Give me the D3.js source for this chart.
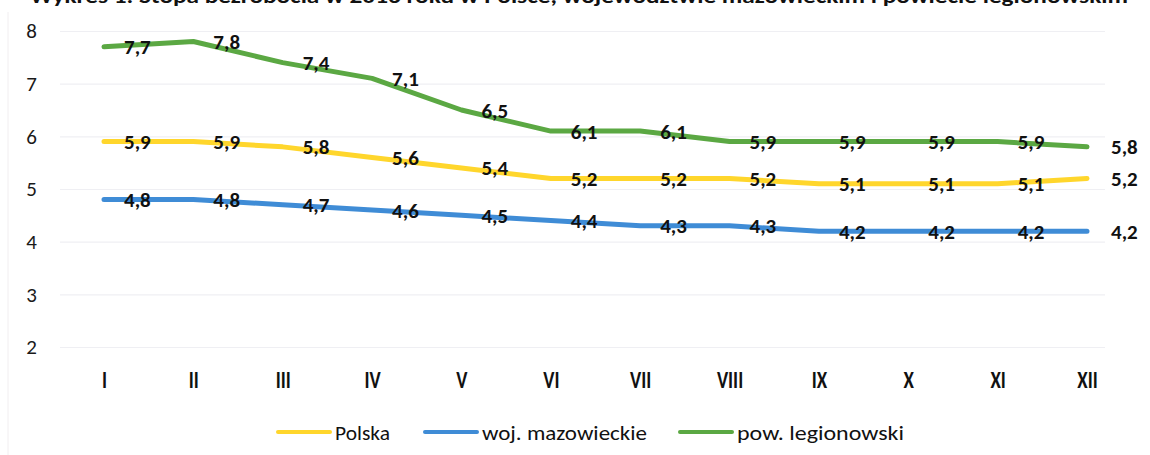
<!DOCTYPE html>
<html>
<head>
<meta charset="utf-8">
<script src="https://cdn.jsdelivr.net/npm/d3@7"></script>
<style>
  body { margin: 0; background: #fff; }
  svg { display: block; }
</style>
</head>
<body>
<svg id="chart" width="1150" height="455"></svg>
<script>
// data
var months = ["I", "II", "III", "IV", "V", "VI", "VII", "VIII", "IX", "X", "XI", "XII"];
var polska = [5.9, 5.9, 5.8, 5.6, 5.4, 5.2, 5.2, 5.2, 5.1, 5.1, 5.1, 5.2];
var mazowieckie = [4.8, 4.8, 4.7, 4.6, 4.5, 4.4, 4.3, 4.3, 4.2, 4.2, 4.2, 4.2];
var legionowski = [7.7, 7.8, 7.4, 7.1, 6.5, 6.1, 6.1, 5.9, 5.9, 5.9, 5.9, 5.8];
var seriesNames = ["Polska", "woj. mazowieckie", "pow. legionowski"];
var yTicks = [2, 3, 4, 5, 6, 7, 8];
var title = "Wykres 1. Stopa bezrobocia w 2016 roku w Polsce, województwie mazowieckim i powiecie legionowskim";

var colors = ["#ffd62c", "#3f8cd6", "#5ba843"];
var series = [polska, mazowieckie, legionowski];

var svg = d3.select("#chart");
var font = "Calibri, Carlito, Lato, sans-serif";

var x = d3.scalePoint().domain(months).range([104, 1087]);
var y = d3.scaleLinear().domain([2, 8]).range([347, 31]);

// faint frame edge of the scanned chart
svg.append("line").attr("x1", 8).attr("x2", 8).attr("y1", 12).attr("y2", 455)
  .attr("stroke", "#f1eef0").attr("stroke-width", 1);

// title, mostly cut off at top as in the scan
svg.append("text").attr("x", 30).attr("y", 3)
  .attr("textLength", 1098).attr("lengthAdjust", "spacingAndGlyphs")
  .style("font-family", font).style("font-weight", "bold").style("font-size", "21px")
  .attr("fill", "#111").text(title);

// y axis with grid
var yAxis = svg.append("g").attr("transform", "translate(60,0)")
  .call(d3.axisLeft(y).tickValues(yTicks).tickSize(-1045).tickPadding(23).tickFormat(d3.format("d")));
yAxis.select(".domain").remove();
yAxis.selectAll(".tick line").attr("stroke", "#efeff3").attr("stroke-width", 1.2);
yAxis.selectAll(".tick text").style("font-family", font).style("font-size", "21px").attr("fill", "#1a1a1a");

// x axis
var xAxis = svg.append("g").attr("transform", "translate(0,369)")
  .call(d3.axisBottom(x).tickSize(0).tickPadding(2));
xAxis.select(".domain").remove();
xAxis.selectAll(".tick text").style("font-family", font).style("font-weight", "bold")
  .style("font-size", "21px").attr("fill", "#111")
  .attr("transform", "scale(0.9,1.1)")
  .attr("x", function (d) { return 0; });

var line = d3.line().x(function (d, i) { return x(months[i]); }).y(function (d) { return y(d); });

series.forEach(function (vals, k) {
  svg.append("path").datum(vals).attr("d", line).attr("fill", "none")
    .attr("stroke", colors[k]).attr("stroke-width", 5)
    .attr("stroke-linecap", "round").attr("stroke-linejoin", "round");
});

series.forEach(function (vals, k) {
  svg.append("g").selectAll("text").data(vals).join("text")
    .attr("x", function (d, i) { return x(months[i]) + (i == 11 ? 24 : 20); })
    .attr("y", function (d) { return y(d); })
    .attr("dy", "0.36em")
    .style("font-family", font).style("font-weight", "bold").style("font-size", "21px")
    .attr("fill", "#111")
    .text(function (d) { return d3.format(".1f")(d).replace(".", ","); });
});

// legend
var legendX = [278, 425, 680];
var legend = svg.append("g").selectAll("g").data(seriesNames).join("g")
  .attr("transform", function (d, i) { return "translate(" + legendX[i] + ",432)"; });
legend.append("line").attr("x1", 0).attr("x2", 52).attr("y1", 0).attr("y2", 0)
  .attr("stroke", function (d, i) { return colors[i]; }).attr("stroke-width", 4)
  .attr("stroke-linecap", "round");
legend.append("text").attr("x", 57).attr("dy", "0.36em")
  .attr("textLength", function (d, i) { return [55, 165, 167][i]; })
  .attr("lengthAdjust", "spacingAndGlyphs")
  .style("font-family", font).style("font-size", "21px").attr("fill", "#111")
  .text(function (d) { return d; });
</script>
</body>
</html>
